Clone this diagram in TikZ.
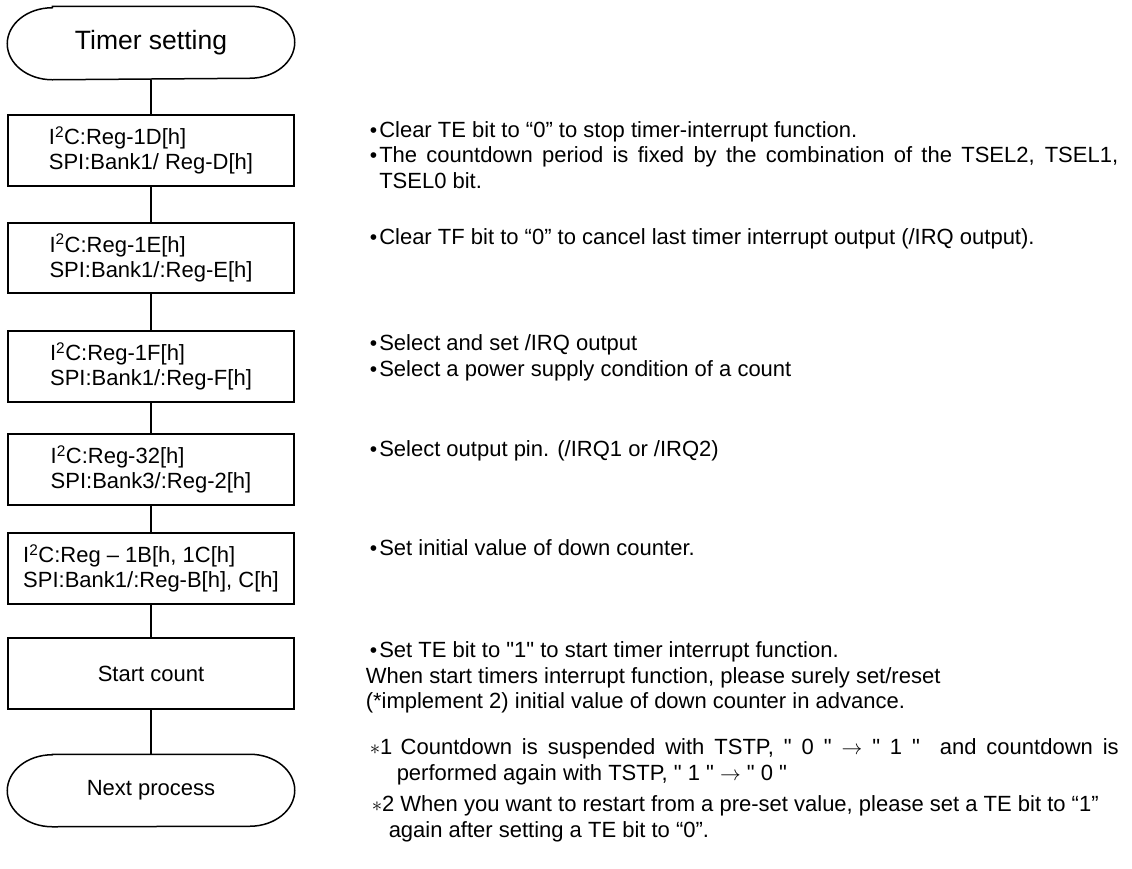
\documentclass[tikz,border=0pt]{standalone}
\usepackage{fontspec}
\setmainfont{Liberation Sans}
\usetikzlibrary{positioning}

\newcommand{\bul}{\makebox[9.5pt][l]{\fontsize{21}{21}\selectfont •}}
\newcommand{\dq}{\textquotedbl}
\newcommand{\firstline}{\rule{0pt}{16.5pt}}
% terminal outline with elliptic ends, drawn around a named node
\newcommand{\termpath}[1]{%
  \draw ([xshift=45pt]#1.north west) -- ([xshift=-45pt]#1.north east)
    arc[start angle=90, end angle=-90, x radius=45pt, y radius=36pt]
    -- ([xshift=45pt]#1.south west)
    arc[start angle=270, end angle=90, x radius=45pt, y radius=36pt] -- cycle;}

\begin{document}
\begin{tikzpicture}[
    x=1pt, y=1pt, line width=1.5pt,
    regbox/.style={rectangle, draw, minimum width=286pt, minimum height=71pt, inner sep=0pt, align=left, font=\fontsize{22}{25}\selectfont},
    term/.style={rectangle, minimum width=286pt, minimum height=72pt, inner sep=0pt, font=\fontsize{22}{25}\selectfont},
    note/.style={anchor=north west, inner sep=0pt, align=left, font=\fontsize{22}{25.5}\selectfont}
  ]
  \useasboundingbox (0,0) rectangle (1132,-868);

  % ==========================================
  % FLOW
  % ==========================================
  \node[term, font=\fontsize{26.5}{30}\selectfont] (start) at (151, -43) {Timer setting};
  \termpath{start}

  \node[regbox] (r1) at (151, -150.5) {I\textsuperscript{2}C:Reg-1D[h]\\SPI:Bank1/ Reg-D[h]};
  \node[regbox, minimum height=70pt] (r2) at (151, -258) {I\textsuperscript{2}C:Reg-1E[h]\\SPI:Bank1/:Reg-E[h]};
  \node[regbox] (r3) at (151, -366.5) {I\textsuperscript{2}C:Reg-1F[h]\\SPI:Bank1/:Reg-F[h]};
  \node[regbox] (r4) at (151, -469.5) {I\textsuperscript{2}C:Reg-32[h]\\SPI:Bank3/:Reg-2[h]};
  \node[regbox] (r5) at (151, -568.5) {I\textsuperscript{2}C:Reg – 1B[h, 1C[h]\\SPI:Bank1/:Reg-B[h], C[h]};
  \node[regbox] (cnt) at (151, -673.5) {Start count};

  \node[term, minimum height=71pt] (next) at (151, -790.5) {Next process};
  \termpath{next}

  % Connections
  \foreach \a/\b in {start/r1, r1/r2, r2/r3, r3/r4, r4/r5, r5/cnt, cnt/next}
    \draw (\a) -- (\b);

  % ==========================================
  % NOTES
  % ==========================================
  \node[note] (n1) at (369, -120) {\firstline\bul Clear TE bit to “0” to stop timer-interrupt function.\\
    \bul\makebox[739pt][s]{The countdown period is fixed by the combination of the TSEL2, TSEL1,}\\
    \hspace*{9.5pt}TSEL0 bit.};
  \node[note] (n2) at (369, -227.5) {\firstline\bul Clear TF bit to “0” to cancel last timer interrupt output (/IRQ output).};
  \node[note] (n3) at (369, -333.5) {\firstline\bul Select and set /IRQ output\\
    \bul Select a power supply condition of a count};
  \node[note] (n4) at (369, -439.5) {\firstline\bul Select output pin. (/IRQ1 or /IRQ2)};
  \node[note] (n5) at (369, -538.5) {\firstline\bul Set initial value of down counter.};
  \node[note] (n6) at (365, -640.5) {\firstline\hspace*{4pt}\bul Set TE bit to \dq1\dq\ to start timer interrupt function.\\
    When start timers interrupt function, please surely set/reset\\
    (*implement 2) initial value of down counter in advance.};
  \node[note] (n7) at (369, -737.5) {\firstline\makebox[31pt][l]{$\ast$1}\makebox[718pt][s]{Countdown is suspended with TSTP, \dq\ 0 \dq\ $\rightarrow$ \dq\ 1 \dq\ \ and countdown is}\\
    \hspace*{27pt}performed again with TSTP, \dq\ 1 \dq\ $\rightarrow$ \dq\ 0 \dq};
  \node[note] (n8) at (369, -794.5) {\firstline\hspace*{2pt}$\ast$2 When you want to restart from a pre-set value, please set a TE bit to “1”\\
    \hspace*{19pt}again after setting a TE bit to “0”.};

\end{tikzpicture}
\end{document}
